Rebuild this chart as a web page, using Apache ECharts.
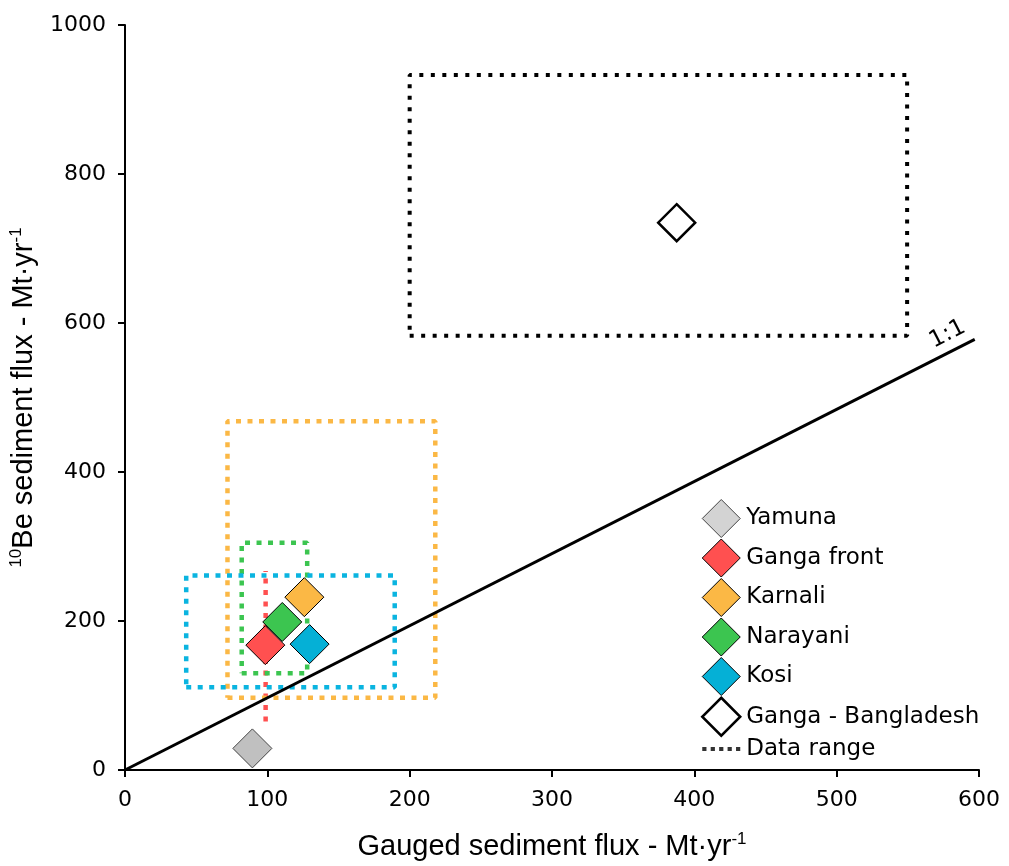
<!DOCTYPE html>
<html><head><meta charset="utf-8">
<script src="https://cdn.jsdelivr.net/npm/echarts@6/dist/echarts.min.js"></script>
<style>html,body{margin:0;padding:0;background:#fff}#c{width:1009px;height:866px}</style>
</head><body><div id="c"></div>
<script>
const names = ['Yamuna', 'Ganga front', 'Karnali', 'Narayani', 'Kosi', 'Ganga - Bangladesh'];
const gaugedFlux = [89.5, 98.6, 126, 110.5, 129.7, 387.6];
const beFlux = [29, 167.6, 232, 198.7, 169, 734.7];
const fillColors = ['#c0c0c0', '#ff5050', '#fbb845', '#3cc550', '#05b0d6', '#ffffff'];
const legendColors = ['#d3d3d3', '#ff5050', '#fbb845', '#3cc550', '#05b0d6', '#ffffff'];
// data ranges [xMin, xMax, yMin, yMax]; null = no range
const rangeX0 = [null, 98.8, 72, 82, 43, 200];
const rangeX1 = [null, 98.8, 218, 128, 189.5, 549.5];
const rangeY0 = [null, 65, 97, 130, 111, 583];
const rangeY1 = [null, 267, 468, 305, 261, 933];
const rangeColors = [null, '#ff5050', '#fbb845', '#3cc550', '#0ab4e0', '#000000'];
const oneToOne = [[0, 0], [597, 578]];
const xTicks = [0, 100, 200, 300, 400, 500, 600];
const yTicks = [0, 200, 400, 600, 800, 1000];

const series = [];
for (let i = 0; i < names.length; i++) {
  if (rangeX0[i] === null) continue;
  let pts;
  if (rangeX0[i] === rangeX1[i]) {
    pts = [[rangeX0[i], rangeY0[i]], [rangeX0[i], rangeY1[i]]];
  } else {
    pts = [[rangeX0[i], rangeY0[i]], [rangeX1[i], rangeY0[i]], [rangeX1[i], rangeY1[i]], [rangeX0[i], rangeY1[i]], [rangeX0[i], rangeY0[i]]];
  }
  const black = i === 5;
  series.push({
    type: 'line', name: names[i] + ' range',
    data: pts, symbol: 'none', silent: true, z: 1,
    lineStyle: { color: rangeColors[i], width: black ? 4 : 4.5, type: black ? [4, 7.5] : [5, 6.5], cap: 'butt' },
    itemStyle: { color: rangeColors[i] }
  });
}
series.push({
  type: 'line', name: '1:1', data: oneToOne, symbol: 'none', silent: true, z: 2,
  lineStyle: { color: '#000', width: 3 }
});
for (let i = 0; i < names.length; i++) {
  const hollow = i === 5;
  series.push({
    type: 'scatter', name: names[i], symbol: 'diamond', symbolSize: hollow ? 37 : 39, z: 3,
    data: [[gaugedFlux[i], beFlux[i]]],
    itemStyle: { color: fillColors[i], borderColor: hollow ? '#000' : (i === 0 ? '#444' : '#000'), borderWidth: hollow ? 2.5 : 1, opacity: 1 }
  });
}
// legend-only entry for the dotted data-range boxes
const dotsPath = 'path://M0,0h5v5h-5zM10,0h5v5h-5zM20,0h5v5h-5zM30,0h5v5h-5zM40,0h5v5h-5z';
series.push({
  type: 'scatter', name: 'Data range', data: [], symbol: dotsPath,
  itemStyle: { color: '#000' }
});

const chart = echarts.init(document.getElementById('c'), null, { renderer: 'canvas' });
const labelFont = 'DejaVu Sans, Verdana, sans-serif';
const supStyle = { fontFamily: 'Liberation Sans, Arial', fontSize: 17, verticalAlign: 'top', padding: [0, 0, 14, 0], color: '#000' };
chart.setOption({
  animation: false,
  backgroundColor: '#fff',
  grid: { left: 123, right: 30, top: 25, bottom: 91, containLabel: false },
  xAxis: {
    type: 'value', min: 0, max: 600, interval: 100,
    name: 'Gauged sediment flux - Mt·yr{sup|-1}', nameLocation: 'middle', nameGap: 61,
    nameTextStyle: { fontFamily: 'Liberation Sans, Arial', fontSize: 29, color: '#000', rich: { sup: supStyle } },
    axisLine: { lineStyle: { color: '#000', width: 2 } },
    axisTick: { show: true, inside: false, length: 7, lineStyle: { color: '#000', width: 2 } },
    axisLabel: { fontFamily: labelFont, fontSize: 22, color: '#000', margin: 19, formatter: v => String(v) },
    splitLine: { show: false }
  },
  yAxis: {
    type: 'value', min: 0, max: 1000, interval: 200,
    name: '{sup|10}Be sediment flux - Mt·yr{sup|-1}', nameLocation: 'middle', nameGap: 86, nameRotate: 90,
    nameTextStyle: { fontFamily: 'Liberation Sans, Arial', fontSize: 29, color: '#000', rich: { sup: supStyle } },
    axisLine: { show: true, lineStyle: { color: '#000', width: 2 } },
    axisTick: { show: true, inside: false, length: 7, lineStyle: { color: '#000', width: 2 } },
    axisLabel: { fontFamily: labelFont, fontSize: 22, color: '#000', margin: 19, formatter: v => String(v) },
    splitLine: { show: false }
  },
  legend: {
    orient: 'vertical', left: 696, top: 494, itemWidth: 38, itemHeight: 38, itemGap: 0.5,
    textStyle: { fontFamily: labelFont, fontSize: 23, color: '#000', padding: [0, 0, 0, 1] },
    data: names.map((n, i) => ({ name: n, itemStyle: { color: legendColors[i], borderColor: i === 0 ? '#444' : '#000', borderWidth: i === 5 ? 2.5 : 1 } }))
      .concat([{ name: 'Data range', icon: dotsPath, itemStyle: { color: '#000', borderWidth: 0 } }]),
    selectedMode: false
  },
  series: series
});

const p = chart.convertToPixel({ gridIndex: 0 }, [583, 583 * 578 / 597]);
chart.setOption({
  graphic: [{
    type: 'text', x: p[0] - 2, y: p[1] - 5, rotation: Math.atan2(578 * 0.75, 597 * 856 / 600),
    style: { text: '1:1', fontFamily: labelFont, fontSize: 23, fill: '#000', align: 'center', verticalAlign: 'bottom' }
  }]
});
</script></body></html>
